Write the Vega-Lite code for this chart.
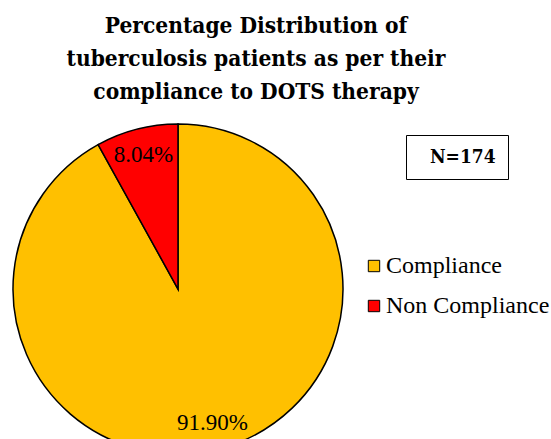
{
  "$schema": "https://vega.github.io/schema/vega-lite/v6.json",
  "width": 356,
  "height": 330,
  "padding": {"top": 14, "left": 0, "right": 0, "bottom": 0},
  "background": "white",
  "title": {
    "text": ["Percentage Distribution of", "tuberculosis patients as per their", "compliance to DOTS therapy"],
    "font": "DejaVu Serif Condensed, DejaVu Serif",
    "fontSize": 22.5,
    "fontWeight": "bold",
    "lineHeight": 33,
    "color": "black",
    "anchor": "middle",
    "frame": "group",
    "dx": 78,
    "offset": 18
  },
  "data": {
    "values": [
      {"category": "Compliance", "share": 0.919, "sample": "N=174"},
      {"category": "Non Compliance", "share": 0.0804, "sample": "N=174"}
    ]
  },
  "encoding": {
    "theta": {"field": "share", "type": "quantitative", "stack": true},
    "order": {"field": "category", "type": "nominal", "sort": "ascending"}
  },
  "layer": [
    {
      "mark": {"type": "arc", "stroke": "black", "strokeWidth": 1.5},
      "encoding": {
        "color": {
          "field": "category",
          "type": "nominal",
          "scale": {"domain": ["Compliance", "Non Compliance"], "range": ["#FFC000", "#FF0000"]},
          "legend": {
            "orient": "none",
            "legendX": 362,
            "legendY": 130,
            "title": null,
            "symbolType": "square",
            "symbolSize": 130,
            "symbolStrokeColor": "black",
            "symbolStrokeWidth": 1,
            "labelFont": "Liberation Serif",
            "labelFontSize": 24,
            "labelColor": "black",
            "labelOffset": 0,
            "labelLimit": 300,
            "rowPadding": 16
          }
        }
      }
    },
    {
      "mark": {"type": "text", "radius": 138, "font": "Liberation Serif", "fontSize": 23},
      "encoding": {
        "text": {"field": "share", "type": "quantitative", "format": ".2%"},
        "detail": {"field": "category", "type": "nominal"},
        "color": {
          "field": "sample",
          "type": "nominal",
          "scale": {"range": ["black"]},
          "legend": {
            "orient": "none",
            "legendX": 406,
            "legendY": 11,
            "title": null,
            "symbolSize": 0,
            "symbolOpacity": 0,
            "labelFont": "DejaVu Serif Condensed, DejaVu Serif",
            "labelFontSize": 19,
            "labelFontWeight": "bold",
            "labelColor": "black",
            "labelOffset": -7,
            "padding": 12,
            "strokeColor": "black"
          }
        }
      }
    }
  ],
  "resolve": {"scale": {"color": "independent"}, "legend": {"color": "independent"}},
  "view": {"stroke": null}
}
